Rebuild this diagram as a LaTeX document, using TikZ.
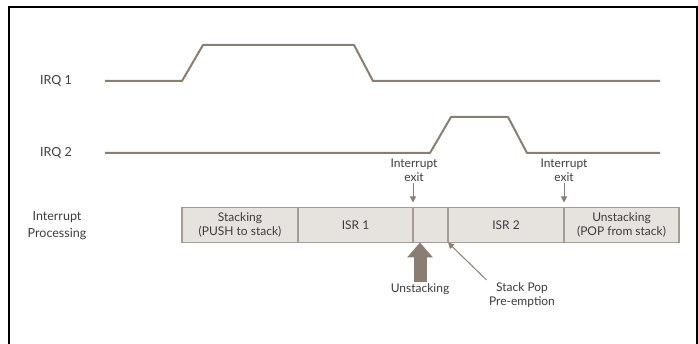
\documentclass[tikz,border=0pt]{standalone}
\usepackage{fontspec}
\setmainfont{Lato}
\usetikzlibrary{arrows.meta,positioning}
\definecolor{wave}{HTML}{8A7E72}
\definecolor{boxfill}{HTML}{E6E2DE}
\definecolor{boxline}{HTML}{A59D95}
\definecolor{ink}{HTML}{3C3C3C}
\tikzset{
	seg/.style={draw=boxline, fill=boxfill, line width=1.2pt, minimum height=35pt,
		inner sep=0pt, outer sep=0pt, align=center, text=ink,
		font=\fontsize{12}{14}\selectfont},
	lbl/.style={align=center, text=ink, inner sep=1pt, font=\fontsize{12.5}{17}\selectfont},
	small/.style={align=center, text=ink, inner sep=1pt, font=\fontsize{12}{14}\selectfont},
	sig/.style={line width=2pt, color=wave, line join=round},
	exitarrow/.style={-{Triangle[length=6pt,width=6pt]}, line width=1pt, color=wave},
	bigarrow/.style={-{Triangle[length=15pt,width=25pt]}, line width=13pt, color=wave},
}

\begin{document}
\begin{tikzpicture}[x=1pt, y=-1pt]
		%%%%% FRAME %%%%%
		\useasboundingbox (0, 0) rectangle (698, 344);
		\draw[line width=2pt] (8.5, 350) -- (8.5, 7) -- (697, 7) -- (697, 350);
		
		%%%%% SIGNALS %%%%%
		\node[lbl] (irqA) at (56, 81) {IRQ 1};
		\node[lbl] (irqB) at (56, 153) {IRQ 2};
		\draw[sig] (105, 81) -- (182, 81) -- (203, 45) -- (354, 45) -- (373, 81) -- (660, 81);
		\draw[sig] (105, 153) -- (430, 153) -- (451, 117) -- (508, 117) -- (527, 153) -- (660, 153);
		
		%%%%% PROCESSING BAR %%%%%
		\node[lbl] (proc) at (57, 226) {Interrupt\\Processing};
		\node[seg, minimum width=116pt] (stk) at (240, 225) {Stacking\\(PUSH to stack)};
		\node[seg, minimum width=115pt, right=0pt of stk] (isrA) {ISR 1};
		\node[seg, minimum width=35pt, right=0pt of isrA] (gap) {};
		\node[seg, minimum width=116pt, right=0pt of gap] (isrB) {ISR 2};
		\node[seg, minimum width=115pt, right=0pt of isrB] (unstk) {Unstacking\\(POP from stack)};
		
		%%%%% EXIT MARKS %%%%%
		\node[small] (exitA) at (414, 170) {Interrupt\\exit};
		\node[small] (exitB) at (564, 170) {Interrupt\\exit};
		\draw[exitarrow, shorten >=5pt] (exitA.south -| isrA.east) -- (isrA.north east);
		\draw[exitarrow, shorten >=5pt] (exitB.south -| isrB.east) -- (isrB.north east);
		
		%%%%% BELOW THE BAR %%%%%
		\node[small] (unlbl) at (420, 289) {Unstacking};
		\node[small] (popl) at (522, 295) {Stack Pop\\Pre-emption};
		\draw[bigarrow] (unlbl.north) -- (unlbl.north |- gap.south);
		\draw[exitarrow, shorten <=2pt] (popl.north west) -- (isrB.south west);
		
		%%%%% END %%%%%
	\end{tikzpicture}
\end{document}
